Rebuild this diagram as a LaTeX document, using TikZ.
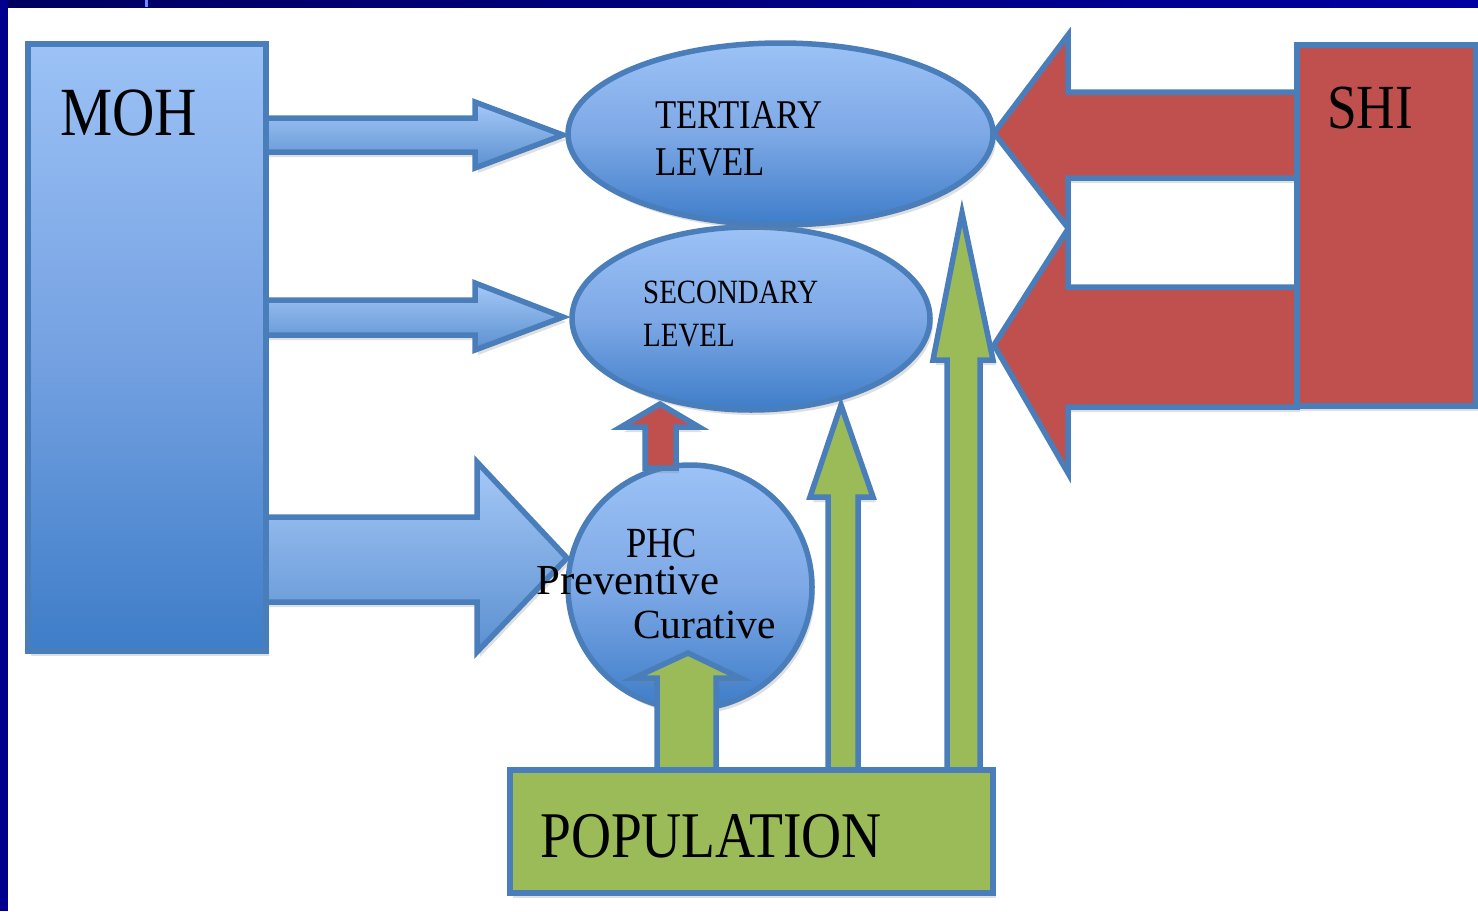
\documentclass[tikz,border=0pt]{standalone}
\usepackage{fontspec}
\setmainfont{Liberation Serif}[FakeStretch=0.85]
\newfontfamily\lcfont{Liberation Serif}
\usetikzlibrary{shadows}
\definecolor{bord}{RGB}{74,126,187}
\definecolor{bluetop}{RGB}{156,194,246}
\definecolor{bluemid}{RGB}{118,162,226}
\definecolor{bluebot}{RGB}{62,125,200}
\definecolor{redf}{RGB}{192,80,77}
\definecolor{greenf}{RGB}{155,187,89}
\definecolor{navyL}{RGB}{0,0,96}
\definecolor{navyR}{RGB}{0,0,160}
\definecolor{navyside}{RGB}{0,0,140}
\definecolor{tick}{RGB}{110,140,255}
\tikzset{
  shad/.style={drop shadow={opacity=0.25, shadow xshift=3pt, shadow yshift=-5pt}},
  bluebox/.style={draw=bord, line width=5.5pt, top color=bluetop, bottom color=bluebot, middle color=bluemid, shad},
  bluearrow/.style={draw=bord, line width=5.5pt, line join=miter, top color=bluetop!90!white, bottom color=bluebot!85!white, shad},
  redshape/.style={draw=bord, line width=5.5pt, line join=miter, fill=redf, shad},
  greenshape/.style={draw=bord, line width=5.5pt, line join=miter, fill=greenf, shad},
  lbl/.style={inner sep=0pt, anchor=base west, text=black},
}
\begin{document}
\begin{tikzpicture}[x=1pt, y=-1pt]
\useasboundingbox (0,0) rectangle (1478,911);
\fill[white] (0,0) rectangle (1478,911);
% slide frame
\shade[left color=navyL, right color=navyR] (0,0) rectangle (1478,7);
\fill[navyside] (0,0) rectangle (8,911);
\fill[tick] (145,0) rectangle (148,7);

% MOH box
\path[bluebox] (28,44) rectangle (266,651);
\node[lbl, font=\fontsize{69}{80}\selectfont] (moh) at (60,135) {MOH};

% arrows from MOH
\path[bluearrow] (266,118) -- (475,118) -- (475,102) -- (563,135) -- (475,168) -- (475,152) -- (266,152) -- cycle;
\path[bluearrow] (266,300) -- (475,300) -- (475,283) -- (563,317) -- (475,350) -- (475,335) -- (266,335) -- cycle;
\path[bluearrow] (266,517) -- (477,517) -- (477,462) -- (567,558) -- (477,652) -- (477,602) -- (266,602) -- cycle;

% ellipses
\path[bluebox, middle color=bluemid!80!bluetop] (751,318.5) ellipse [x radius=179, y radius=91.5];
\path[bluebox, middle color=bluemid!80!bluetop] (780.5,134) ellipse [x radius=212.5, y radius=91];
\node[lbl, font=\fontsize{40.8}{47}\selectfont] (ter1) at (655,128) {TERTIARY};
\node[lbl, font=\fontsize{40.8}{47}\selectfont] (ter2) at (655,175) {LEVEL};
\node[lbl, font=\fontsize{34}{43}\selectfont] (sec1) at (643,303) {SECONDARY};
\node[lbl, font=\fontsize{34}{43}\selectfont] (sec2) at (643,346) {LEVEL};

% red arrows from SHI
\path[redshape] (1297,92) -- (1068,92) -- (1068,35) -- (994,133) -- (1068,228) -- (1068,178) -- (1297,178) -- cycle;
\path[redshape] (1297,287) -- (1068,287) -- (1068,229) -- (994,345) -- (1068,473) -- (1068,407) -- (1297,407) -- cycle;

% SHI box
\path[redshape] (1297,45) rectangle (1476,406);
\node[lbl, font=\fontsize{62.8}{72}\selectfont] (shi) at (1327,128) {SHI};

% PHC circle
\path[bluebox, middle color=bluemid!80!bluetop] (690,587) circle [radius=122];

% small red arrow PHC -> secondary
\path[redshape] (645,468) -- (645,427) -- (621,427) -- (660,404) -- (699,427) -- (676,427) -- (676,468) -- cycle;

% green arrows from population
\path[greenshape] (657,770) -- (657,678) -- (634,678) -- (688,653) -- (740,678) -- (716,678) -- (716,770) -- cycle;
\path[greenshape] (828,770) -- (828,497) -- (810,497) -- (841,405) -- (873,497) -- (858,497) -- (858,770) -- cycle;
\path[greenshape] (947,770) -- (947,360) -- (933,360) -- (962,213) -- (993,360) -- (980,360) -- (980,770) -- cycle;

\node[lbl, font=\fontsize{43}{50}\selectfont] (phc) at (626,557) {PHC};
\node[lbl, font=\lcfont\fontsize{42.8}{50}\selectfont] (prev) at (536,594) {Preventive};
\node[lbl, font=\lcfont\fontsize{41.5}{50}\selectfont] (cur) at (633,638) {Curative};

% population box
\path[greenshape] (510,770) rectangle (993,893);
\node[lbl, font=\fontsize{65.2}{75}\selectfont] (pop) at (540,857) {POPULATION};
\end{tikzpicture}
\end{document}
